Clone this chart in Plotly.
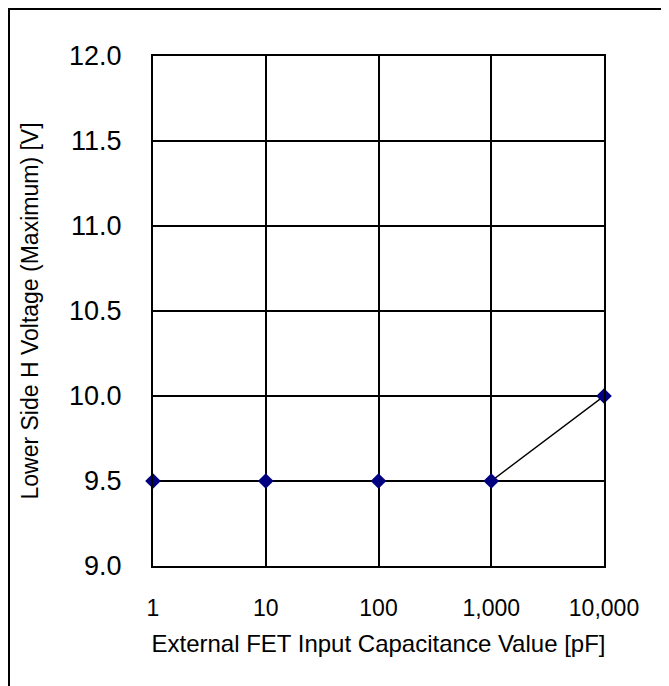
import plotly.graph_objects as go

capacitance_pf = [1, 10, 100, 1000, 10000]
voltage_v = [9.5, 9.5, 9.5, 9.5, 10.0]
x_tick_vals = [1, 10, 100, 1000, 10000]
x_tick_text = ["1", "10", "100", "1,000", "10,000"]
y_tick_vals = [9.0, 9.5, 10.0, 10.5, 11.0, 11.5, 12.0]
y_tick_text = ["9.0", "9.5", "10.0", "10.5", "11.0", "11.5", "12.0"]

# the page has an 8px body margin; compensate so the plot lands where the reference has it
OFF = 8
W, H = 669, 686
L, T = 153 - OFF, 56 - OFF
R = W - (604 - OFF)
B = H - (566 - OFF)
pw, ph = W - L - R, H - T - B

fig = go.Figure()
fig.add_trace(go.Scatter(
    x=capacitance_pf, y=voltage_v, mode="lines+markers",
    line=dict(color="black", width=1.5),
    marker=dict(symbol="diamond", size=12, color="#000080"),
    showlegend=False, cliponaxis=False,
))

FAM = "Liberation Sans, Arial, sans-serif"
font = dict(family=FAM, size=23, color="black")

fig.update_layout(
    width=W, height=H,
    margin=dict(l=L, r=R, t=T, b=B, pad=0),
    paper_bgcolor="white", plot_bgcolor="white",
    font=font,
    xaxis=dict(
        type="log", range=[0, 4],
        tickvals=x_tick_vals, ticktext=x_tick_text,
        tickfont=dict(size=23),
        showgrid=True, gridcolor="black", gridwidth=1.5,
        showline=True, linecolor="black", linewidth=2, mirror=True,
        ticks="outside", ticklen=20, tickcolor="rgba(0,0,0,0)",
        zeroline=False,
        title=dict(text="External FET Input Capacitance Value [pF]",
                   font=dict(size=24), standoff=16),
    ),
    yaxis=dict(
        range=[9.0, 12.0],
        tickvals=y_tick_vals, ticktext=y_tick_text,
        tickfont=dict(size=27),
        showgrid=True, gridcolor="black", gridwidth=1.5,
        showline=True, linecolor="black", linewidth=2, mirror=True,
        ticks="outside", ticklen=24, tickcolor="rgba(0,0,0,0)",
        zeroline=False,
        title=dict(text="Lower Side H Voltage (Maximum) [V]",
                   font=dict(size=23), standoff=24),
    ),
)

# outer frame around the whole chart (extends past the visible window on right/bottom)
fig.add_shape(
    type="rect", xref="paper", yref="paper",
    x0=(1 - L) / pw, x1=(W + 10 - L) / pw,
    y0=-(H + 10 - (T + ph)) / ph, y1=1 + (T - 1) / ph,
    line=dict(color="black", width=2), fillcolor="rgba(0,0,0,0)",
    layer="below",
)

fig.write_html("out.html")
